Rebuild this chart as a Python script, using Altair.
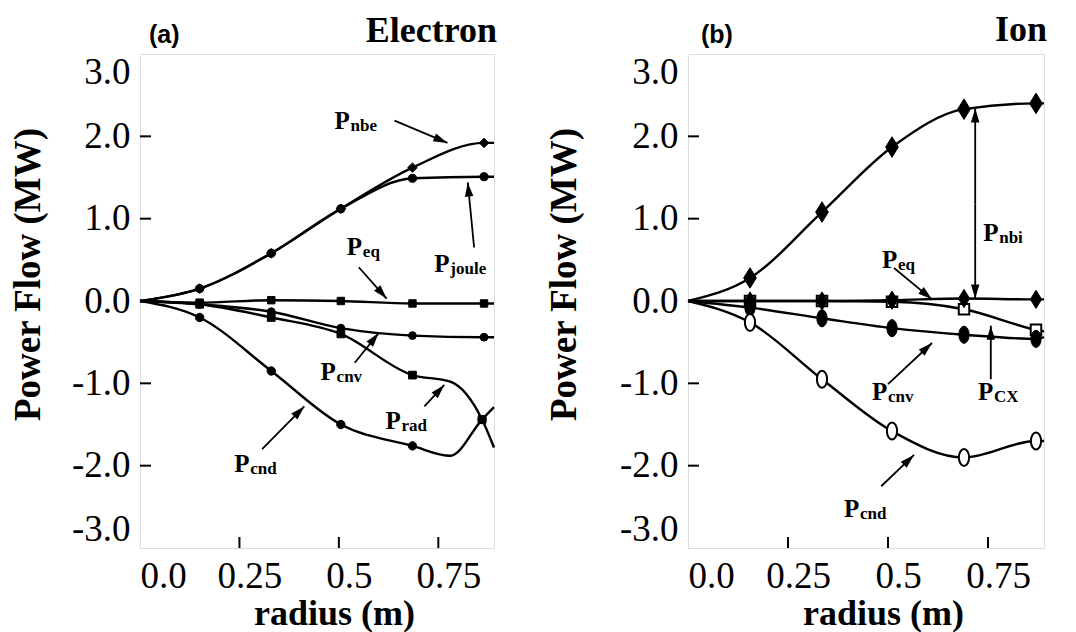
import math
import altair as alt
import pandas as pd

XMAX = 0.89
W_A, W_B, H = 354, 356, 494
SERIF = "Liberation Serif"
SANS = "Liberation Sans"

# ---------------- (a) Electron ----------------
e_r = [0.0, 0.15, 0.33, 0.505, 0.685, 0.865, 0.89]
e_nbe = [0.0, 0.15, 0.58, 1.12, 1.62, 1.92, 1.92]
e_joule = [0.0, 0.15, 0.58, 1.12, 1.49, 1.51, 1.51]
e_eq = [0.0, -0.02, 0.01, 0.0, -0.03, -0.03, -0.03]
e_cnv = [0.0, -0.04, -0.13, -0.33, -0.42, -0.44, -0.44]
e_mark = [0, 1, 1, 1, 1, 1, 0]
e_r2 = [0.0, 0.15, 0.33, 0.505, 0.685, 0.78, 0.86, 0.89]
e_rad = [0.0, -0.04, -0.20, -0.40, -0.90, -0.98, -1.44, -1.78]
e_cnd = [0.0, -0.20, -0.85, -1.50, -1.76, -1.88, -1.44, -1.29]
e_mark2 = [0, 1, 1, 1, 1, 0, 1, 0]

e_lab_sub = ["nbe", "joule", "eq", "cnv", "rad", "cnd"]
e_lab_x = [0.489, 0.74, 0.52, 0.454, 0.617, 0.237]
e_lab_y = [2.09, 0.35, 0.56, -0.955, -1.56, -2.08]
e_arr_x1 = [0.64, 0.84, 0.55, 0.54, 0.715, 0.307]
e_arr_y1 = [2.19, 0.65, 0.41, -0.75, -1.28, -1.80]
e_arr_x2 = [0.773, 0.824, 0.62, 0.60, 0.765, 0.413]
e_arr_y2 = [1.92, 1.44, 0.03, -0.39, -1.02, -1.28]

# ---------------- (b) Ion ----------------
i_r = [0.0, 0.155, 0.335, 0.51, 0.69, 0.87, 0.89]
i_nbi = [0.0, 0.28, 1.08, 1.87, 2.33, 2.40, 2.40]
i_eq = [0.0, 0.0, 0.0, 0.01, 0.03, 0.02, 0.02]
i_cx = [0.0, 0.0, 0.0, -0.01, -0.10, -0.35, -0.37]
i_cnv = [0.0, -0.08, -0.21, -0.33, -0.41, -0.46, -0.44]
i_cnd = [0.0, -0.26, -0.95, -1.58, -1.90, -1.70, -1.70]
i_mark = [0, 1, 1, 1, 1, 1, 0]

i_lab_sub = ["nbi", "eq", "cnv", "CX", "cnd"]
i_lab_x = [0.738, 0.485, 0.46, 0.725, 0.39]
i_lab_y = [0.73, 0.40, -1.20, -1.20, -2.62]
i_arr_x1 = [0.718, 0.718, 0.515, 0.50, 0.757, 0.483]
i_arr_y1 = [1.17, 1.17, 0.40, -1.01, -0.95, -2.25]
i_arr_x2 = [0.718, 0.718, 0.61, 0.61, 0.757, 0.565]
i_arr_y2 = [2.34, 0.03, 0.02, -0.51, -0.30, -1.87]

x_tick_vals = [0.25, 0.5, 0.75]
y_tick_vals = [-2, -1, 1, 2]

TALL_DIAMOND = "M0,-1L0.62,0L0,1L-0.62,0Z"
ELLIPSE = ("M0,-1C0.33,-1 0.6,-0.55 0.6,0C0.6,0.55 0.33,1 0,1"
           "C-0.33,1 -0.6,0.55 -0.6,0C-0.6,-0.55 -0.33,-1 0,-1Z")
HEAD = "M0,0L0.3,1L-0.3,1Z"


def sdf(name, xs, ys, marks):
    return pd.DataFrame({"series": name, "x": xs, "y": ys, "m": marks})


def arrows_df(x1, y1, x2, y2, width):
    sx = width / XMAX
    sy = H / 6.0
    ang = []
    for a, b, c, d in zip(x1, y1, x2, y2):
        t = math.degrees(math.atan2((c - a) * sx, (d - b) * sy)) % 360
        ang.append(t)
    return pd.DataFrame({"x1": x1, "y1": y1, "x2": x2, "y2": y2, "ang": ang})


def x_axis(width):
    return alt.Axis(
        title="radius (m)", values=[0, 0.25, 0.5, 0.75],
        labelExpr="datum.value == 0 ? '0.0' : toString(datum.value)",
        ticks=False, domain=False, grid=False, labelFlush=True, labelOffset=10,
        labelFlushOffset=10,
        labelFont=SERIF, labelFontSize=37, labelColor="black", labelPadding=10,
        titleFont=SERIF, titleFontSize=36, titleFontWeight="bold", titleColor="black",
        titlePadding=2, titleX=width / 2 + 17,
    )


def y_axis(tpad):
    return alt.Axis(
        title="Power Flow (MW)", values=[-3, -2, -1, 0, 1, 2, 3],
        labelExpr="(datum.value < 0 ? '-' : '') + format(abs(datum.value), '.1f')",
        ticks=False, domain=False, grid=False, labelFlush=True,
        labelFont=SERIF, labelFontSize=37, labelColor="black", labelPadding=10,
        titleFont=SERIF, titleFontSize=37, titleFontWeight="bold", titleColor="black",
        titlePadding=tpad, titleY=220,
    )


def panel(series, markers, lab_sub, lab_x, lab_y, arr, width, tag, name,
          tag_x, name_y, tpad):
    xs = alt.Scale(domain=[0, XMAX], nice=False, zero=False)
    ys = alt.Scale(domain=[-3, 3], nice=False, zero=False)
    xa = x_axis(width)
    ya = y_axis(tpad)

    def X(f):
        return alt.X(f, scale=xs, axis=xa)

    def Y(f):
        return alt.Y(f, scale=ys, axis=ya)

    all_df = pd.concat(series, ignore_index=True)
    lines = alt.Chart(all_df).mark_line(
        interpolate="monotone", color="black", strokeWidth=2.4
    ).encode(x=X("x:Q"), y=Y("y:Q"), detail="series:N")
    layers = [lines]
    for df, shape, size, filled, sw in markers:
        d = df[df["m"] == 1]
        layers.append(
            alt.Chart(d).mark_point(
                shape=shape, size=size, filled=filled, opacity=1, strokeWidth=sw,
                fill="black" if filled else "white", stroke="black",
            ).encode(x=X("x:Q"), y=Y("y:Q"))
        )
    rules = alt.Chart(arr).mark_rule(color="black", strokeWidth=1.8).encode(
        x=X("x1:Q"), y=Y("y1:Q"), x2="x2:Q", y2="y2:Q",
    )
    heads = alt.Chart(arr).mark_point(
        shape=HEAD, size=800, filled=True, color="black", opacity=1, strokeWidth=0
    ).encode(x=X("x2:Q"), y=Y("y2:Q"), angle=alt.Angle("ang:Q", scale=None))
    labs = pd.DataFrame({"sub": lab_sub, "x": lab_x, "y": lab_y})
    ptext = alt.Chart(labs).mark_text(
        text="P", font=SERIF, fontWeight="bold", fontSize=25, align="left",
        baseline="alphabetic", color="black",
    ).encode(x=X("x:Q"), y=Y("y:Q"))
    stext = alt.Chart(labs).mark_text(
        font=SERIF, fontWeight="bold", fontSize=17, align="left",
        baseline="alphabetic", color="black", dx=16, dy=2,
    ).encode(x=X("x:Q"), y=Y("y:Q"), text="sub:N")
    yt = alt.Chart(pd.DataFrame({"v": y_tick_vals})).mark_rule(
        color="black", strokeWidth=2
    ).encode(y=Y("v:Q"), x=alt.value(0), x2=alt.value(11))
    xt = alt.Chart(pd.DataFrame({"v": x_tick_vals})).mark_rule(
        color="black", strokeWidth=2
    ).encode(x=X("v:Q"), y=alt.value(H), y2=alt.value(H - 11))
    tag_t = alt.Chart(pd.DataFrame({"t": [tag]})).mark_text(
        font=SANS, fontWeight="bold", fontSize=25, align="left",
        baseline="alphabetic", color="black",
    ).encode(text="t:N", x=alt.value(tag_x), y=alt.value(-11))
    name_t = alt.Chart(pd.DataFrame({"t": [name]})).mark_text(
        font=SERIF, fontWeight="bold", fontSize=36, align="right",
        baseline="alphabetic", color="black",
    ).encode(text="t:N", x=alt.value(width + 3), y=alt.value(name_y))
    layers += [rules, heads, ptext, stext, yt, xt, tag_t, name_t]
    return alt.layer(*layers).properties(width=width, height=H)


e_series = [
    sdf("nbe", e_r, e_nbe, e_mark), sdf("joule", e_r, e_joule, e_mark),
    sdf("eq", e_r, e_eq, e_mark), sdf("cnv", e_r, e_cnv, e_mark),
    sdf("rad", e_r2, e_rad, e_mark2), sdf("cnd", e_r2, e_cnd, e_mark2),
]
e_markers = [
    (e_series[0], "diamond", 90, True, 1), (e_series[1], "circle", 65, True, 1),
    (e_series[2], "square", 55, True, 1), (e_series[3], "circle", 60, True, 1),
    (e_series[4], "square", 60, True, 1), (e_series[5], "circle", 70, True, 1),
]
i_series = [
    sdf("nbi", i_r, i_nbi, i_mark), sdf("eq", i_r, i_eq, i_mark),
    sdf("cx", i_r, i_cx, i_mark), sdf("cnv", i_r, i_cnv, i_mark),
    sdf("cnd", i_r, i_cnd, i_mark),
]
i_markers = [
    (i_series[2], "square", 110, False, 2), (i_series[1], TALL_DIAMOND, 330, True, 1),
    (i_series[0], TALL_DIAMOND, 420, True, 1), (i_series[3], ELLIPSE, 290, True, 1),
    (i_series[4], ELLIPSE, 290, False, 2),
]

left = panel(e_series, e_markers, e_lab_sub, e_lab_x, e_lab_y,
             arrows_df(e_arr_x1, e_arr_y1, e_arr_x2, e_arr_y2, W_A),
             W_A, "(a)", "Electron", 9, -12, 24)
right = panel(i_series, i_markers, i_lab_sub, i_lab_x, i_lab_y,
              arrows_df(i_arr_x1, i_arr_y1, i_arr_x2, i_arr_y2, W_B),
              W_B, "(b)", "Ion", 13, -13, 36)

chart = alt.hconcat(left, right, spacing=44).configure_view(
    stroke="black", strokeWidth=2
).configure(background="white").properties(
    padding={"left": 0, "top": 3, "right": 0, "bottom": 0}
)

chart.save("out.html", embed_options={"renderer": "svg", "actions": False})
